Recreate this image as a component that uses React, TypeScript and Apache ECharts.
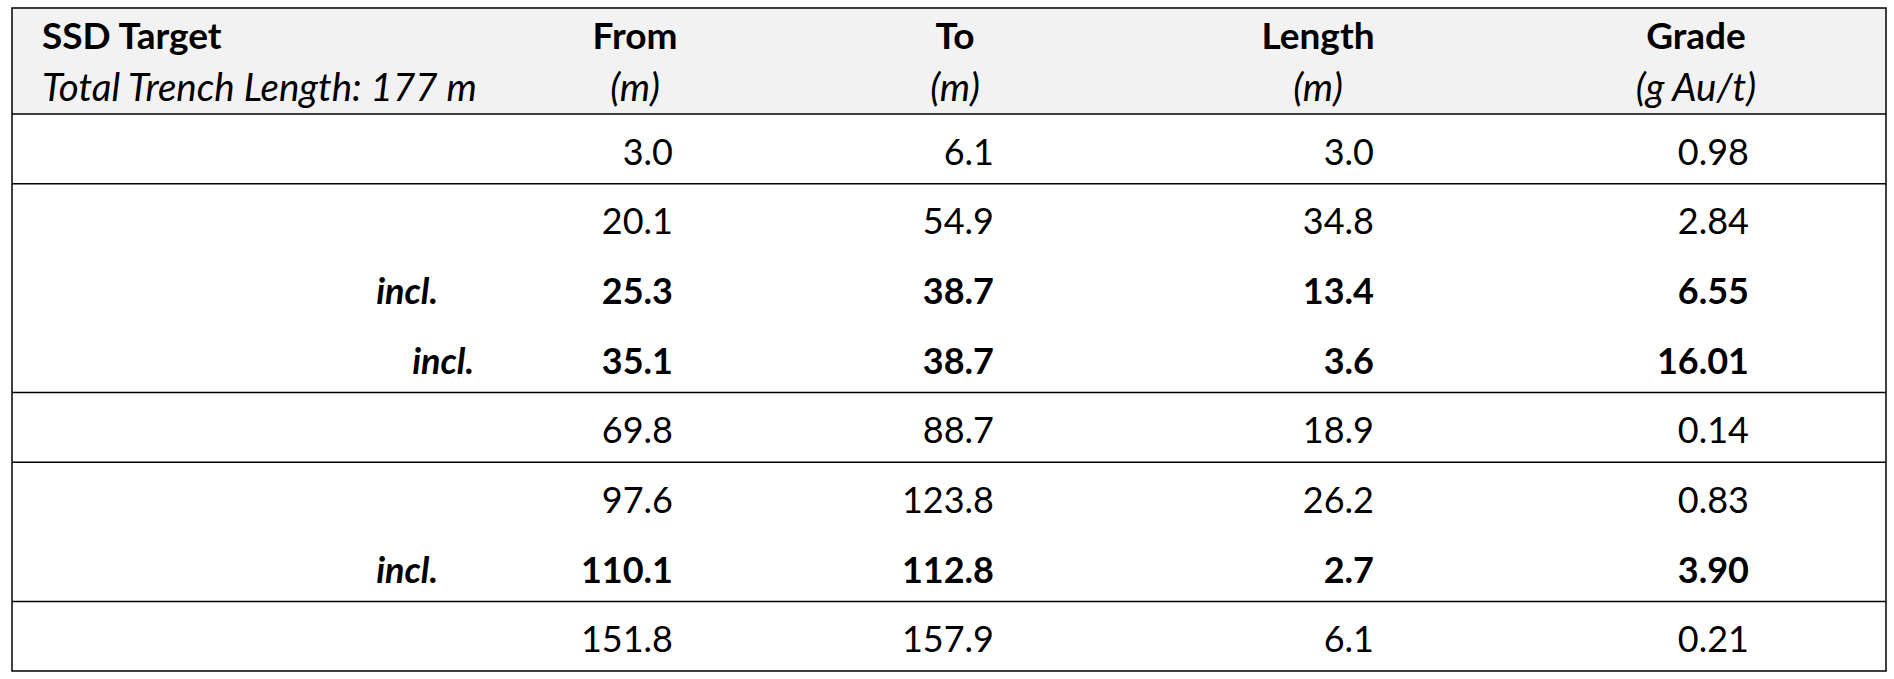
import React, { useEffect, useRef } from "react";
import * as echarts from "echarts";

// ---- Data ----
const titleText = "SSD Target";
const subtitleText = "Total Trench Length: 177 m";
const columnNames = ["From", "To", "Length", "Grade"];
const columnUnits = ["(m)", "(m)", "(m)", "(g Au/t)"];
const rowLabels = ["", "", "incl.", "incl.", "", "", "incl.", ""];
const rowIndent = [0, 0, 1, 2, 0, 0, 1, 0];
const rowBold = [false, false, true, true, false, false, true, false];
const fromValues = [3.0, 20.1, 25.3, 35.1, 69.8, 97.6, 110.1, 151.8];
const toValues = [6.1, 54.9, 38.7, 38.7, 88.7, 123.8, 112.8, 157.9];
const lengthValues = [3.0, 34.8, 13.4, 3.6, 18.9, 26.2, 2.7, 6.1];
const gradeValues = [0.98, 2.84, 6.55, 16.01, 0.14, 0.83, 3.9, 0.21];
const groupEndsAfter = [0, 3, 4, 6];

const W = 1894;
const H = 679;

export default function App() {
  const ref = useRef<HTMLDivElement>(null);
  useEffect(() => {
    if (!ref.current) return;
    const chart = echarts.init(ref.current, null, { renderer: "svg" });

    const left = 12;
    const right = 1886;
    const top = 8;
    const headerBottom = 114;
    const bottom = 671;
    const rowH = (bottom - headerBottom) / fromValues.length;
    const font = "Lato, 'Noto Sans', sans-serif";
    const fs = 36;
    const fsHeadBold = 37;
    const fsHeadItalic = 38.5;
    const headerCenters = [635, 955, 1318, 1696];
    const dataRights = [673, 994, 1374, 1749];
    const inclRights = [0, 438, 474];
    const cols = [
      fromValues.map((v) => v.toFixed(1)),
      toValues.map((v) => v.toFixed(1)),
      lengthValues.map((v) => v.toFixed(1)),
      gradeValues.map((v) => v.toFixed(2)),
    ];

    const elements: any[] = [];
    elements.push({
      type: "rect",
      shape: { x: left, y: top, width: right - left, height: headerBottom - top },
      style: { fill: "#f2f2f2" },
    });
    elements.push({
      type: "text",
      x: 42,
      y: 34,
      style: { text: titleText, font: `bold ${fsHeadBold}px ${font}`, fill: "#000", textAlign: "left", textVerticalAlign: "middle" },
    });
    elements.push({
      type: "text",
      x: 42,
      y: 86,
      style: { text: subtitleText, font: `italic ${fsHeadItalic}px ${font}`, fill: "#000", textAlign: "left", textVerticalAlign: "middle" },
    });
    columnNames.forEach((name, i) => {
      elements.push({
        type: "text",
        x: headerCenters[i],
        y: 34,
        style: { text: name, font: `bold ${fsHeadBold}px ${font}`, fill: "#000", textAlign: "center", textVerticalAlign: "middle" },
      });
      elements.push({
        type: "text",
        x: headerCenters[i],
        y: 86,
        style: { text: columnUnits[i], font: `italic ${fsHeadItalic}px ${font}`, fill: "#000", textAlign: "center", textVerticalAlign: "middle" },
      });
    });

    fromValues.forEach((_, r) => {
      const cy = headerBottom + rowH * (r + 0.5) + 2;
      const weight = rowBold[r] ? "bold" : "normal";
      if (rowLabels[r]) {
        elements.push({
          type: "text",
          x: inclRights[rowIndent[r]],
          y: cy,
          style: { text: rowLabels[r], font: `italic bold ${fs}px ${font}`, fill: "#000", textAlign: "right", textVerticalAlign: "middle" },
        });
      }
      cols.forEach((col, c) => {
        elements.push({
          type: "text",
          x: dataRights[c],
          y: cy,
          style: { text: col[r], font: `${weight} ${fs}px ${font}`, fill: "#000", textAlign: "right", textVerticalAlign: "middle" },
        });
      });
    });

    // horizontal rules
    const lineStyle = { stroke: "#000", lineWidth: 1.5 };
    elements.push({ type: "line", shape: { x1: left, y1: headerBottom, x2: right, y2: headerBottom }, style: lineStyle });
    groupEndsAfter.forEach((r) => {
      const y = headerBottom + rowH * (r + 1);
      elements.push({ type: "line", shape: { x1: left, y1: y, x2: right, y2: y }, style: lineStyle });
    });
    // outer border
    elements.push({
      type: "rect",
      shape: { x: left, y: top, width: right - left, height: bottom - top },
      style: { fill: "none", stroke: "#000", lineWidth: 1.5 },
    });

    chart.setOption({
      animation: false,
      backgroundColor: "#fff",
      graphic: { elements },
    });
    return () => chart.dispose();
  }, []);
  return <div ref={ref} style={{ position: "absolute", left: 0, top: 0, width: W, height: H }} />;
}
